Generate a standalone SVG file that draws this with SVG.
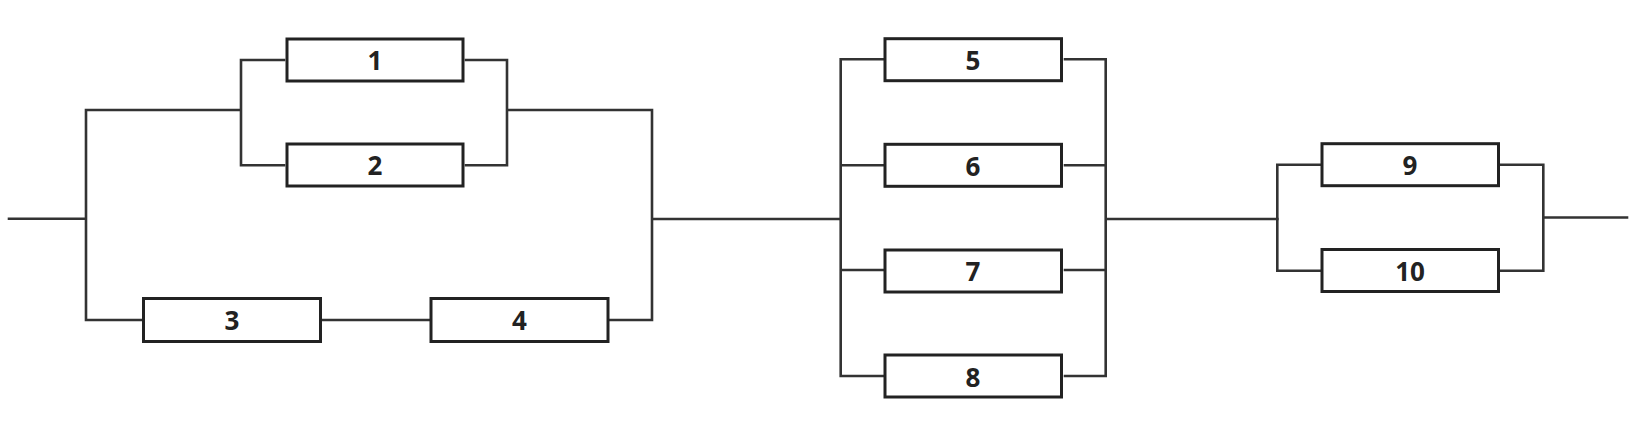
<svg xmlns="http://www.w3.org/2000/svg" width="1651" height="441" viewBox="0 0 1651 441">
<style>
.box{fill:#fff;stroke:#222;stroke-width:3}
.lbl{font-family:"Open Sans","Noto Sans",sans-serif;font-weight:bold;font-size:26px;fill:#222;text-anchor:middle}
.w{fill:none;stroke:#333;stroke-width:2.6;stroke-linecap:square;stroke-linejoin:miter}
</style>
<rect width="1651" height="441" fill="#fff"/>
<g id="connectors">
<path class="w" d="M9,218.7 H86 M86,110 V320 M86,110 H241 M241,60 V165.3 M241,60 H284 M241,165.3 H284 M86,320 H141 M323,320 H429"/>
<path class="w" d="M466,60 H507 V165.3 H466 M507,110 H652 M652,110 V320 H610 M652,219 H840"/>
<path class="w" d="M840.7,59.3 V376 M840.7,59.3 H883 M840.7,165.3 H883 M840.7,270 H883 M840.7,376 H883"/>
<path class="w" d="M1065,59.3 H1105.7 M1065,165.3 H1105.7 M1065,270 H1105.7 M1065,376 H1105.7 M1105.7,59.3 V376 M1105.7,219 H1277.3"/>
<path class="w" d="M1277.3,164.7 V270.7 M1277.3,164.7 H1320 M1277.3,270.7 H1320 M1501,164.7 H1543.3 M1501,270.7 H1543.3 M1543.3,164.7 V270.7 M1543.3,217.5 H1627"/>
</g>
<g id="n1"><rect class="box" x="287" y="39" width="176" height="42"/><text class="lbl" x="375" y="70">1</text></g>
<g id="n2"><rect class="box" x="287" y="144" width="176" height="42"/><text class="lbl" x="375" y="175">2</text></g>
<g id="n3"><rect class="box" x="143.5" y="298.5" width="177" height="43"/><text class="lbl" x="232" y="330">3</text></g>
<g id="n4"><rect class="box" x="431" y="298.5" width="177" height="43"/><text class="lbl" x="519.5" y="330">4</text></g>
<g id="n5"><rect class="box" x="885" y="38.7" width="176.5" height="42"/><text class="lbl" x="973" y="70">5</text></g>
<g id="n6"><rect class="box" x="885" y="144.3" width="176.5" height="42"/><text class="lbl" x="973" y="175.5">6</text></g>
<g id="n7"><rect class="box" x="885" y="250" width="176.5" height="42"/><text class="lbl" x="973" y="281">7</text></g>
<g id="n8"><rect class="box" x="885" y="355" width="176.5" height="42"/><text class="lbl" x="973" y="386.5">8</text></g>
<g id="n9"><rect class="box" x="1322" y="143.7" width="176.5" height="42"/><text class="lbl" x="1410" y="175">9</text></g>
<g id="n10"><rect class="box" x="1322" y="249.5" width="176.5" height="42"/><text class="lbl" x="1410" y="281">10</text></g>
</svg>
